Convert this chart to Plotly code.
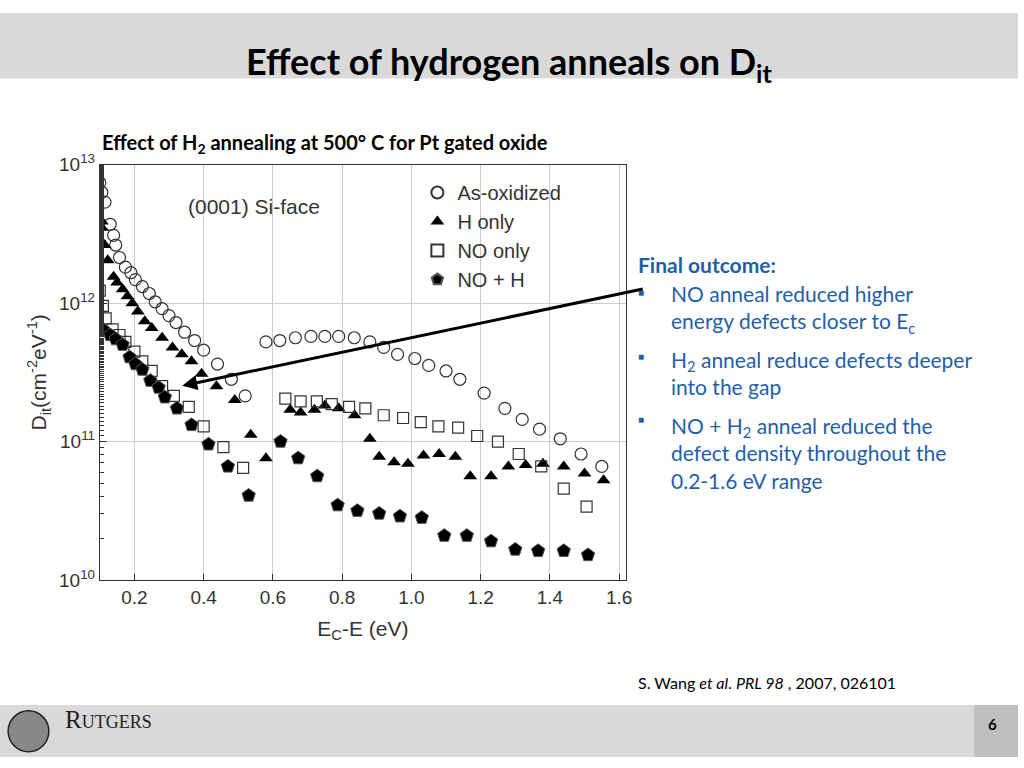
import numpy as np
import plotly.graph_objects as go

# E_c - E (eV) and log10(D_it)
asox_x = [0.10, 0.106, 0.115, 0.13, 0.14, 0.146, 0.157, 0.174, 0.19, 0.203, 0.223, 0.243, 0.26, 0.28, 0.30,
          0.32, 0.345, 0.374, 0.40, 0.44, 0.48, 0.52, 0.58, 0.62, 0.665, 0.71, 0.75, 0.79, 0.835, 0.88, 0.92,
          0.96, 1.01, 1.05, 1.10, 1.14, 1.21, 1.27, 1.32, 1.37, 1.43, 1.49, 1.55]
asox_y = [12.87, 12.80, 12.73, 12.57, 12.49, 12.42, 12.33, 12.26, 12.22, 12.17, 12.12, 12.07, 12.01, 11.96, 11.91,
          11.86, 11.79, 11.73, 11.66, 11.56, 11.45, 11.33, 11.72, 11.73, 11.75, 11.76, 11.76, 11.76, 11.75, 11.72,
          11.68, 11.63, 11.60, 11.55, 11.51, 11.45, 11.35, 11.24, 11.16, 11.09, 11.02, 10.91, 10.82]
h_x = [0.106, 0.106, 0.114, 0.123, 0.14, 0.15, 0.166, 0.18, 0.194, 0.21, 0.23, 0.25, 0.28, 0.31, 0.337, 0.365,
       0.394, 0.437, 0.49, 0.536, 0.58, 0.65, 0.68, 0.72, 0.75, 0.79, 0.836, 0.88, 0.907, 0.95, 0.99, 1.035,
       1.08, 1.127, 1.17, 1.23, 1.28, 1.33, 1.38, 1.44, 1.50, 1.555]
h_y = [12.59, 12.545, 12.42, 12.31, 12.19, 12.15, 12.10, 12.05, 12.00, 11.94, 11.87, 11.82, 11.75, 11.68, 11.63,
       11.58, 11.49, 11.40, 11.30, 11.05, 10.88, 11.23, 11.21, 11.23, 11.26, 11.24, 11.19, 11.02, 10.89, 10.85,
       10.84, 10.90, 10.91, 10.89, 10.75, 10.75, 10.82, 10.83, 10.84, 10.82, 10.77, 10.72]
no_x = [0.10, 0.109, 0.117, 0.137, 0.157, 0.174, 0.20, 0.223, 0.25, 0.28, 0.314, 0.357, 0.40, 0.457, 0.514,
        0.636, 0.68, 0.727, 0.77, 0.82, 0.867, 0.92, 0.976, 1.027, 1.078, 1.135, 1.19, 1.25, 1.31, 1.375, 1.44, 1.506]
no_y = [12.09, 11.98, 11.89, 11.81, 11.77, 11.72, 11.65, 11.58, 11.51, 11.40, 11.33, 11.25, 11.11, 10.96, 10.81,
        11.31, 11.29, 11.29, 11.27, 11.25, 11.24, 11.19, 11.17, 11.14, 11.11, 11.10, 11.04, 11.00, 10.91, 10.82,
        10.66, 10.53]
noh_x = [0.109, 0.13, 0.146, 0.166, 0.186, 0.203, 0.223, 0.246, 0.27, 0.288, 0.323, 0.365, 0.414, 0.47, 0.53,
         0.622, 0.673, 0.728, 0.787, 0.844, 0.907, 0.967, 1.03, 1.095, 1.16, 1.23, 1.30, 1.366, 1.44, 1.51]
noh_y = [11.81, 11.77, 11.74, 11.70, 11.61, 11.56, 11.52, 11.44, 11.39, 11.32, 11.24, 11.12, 10.98, 10.82, 10.61,
         11.00, 10.88, 10.75, 10.54, 10.50, 10.48, 10.46, 10.45, 10.32, 10.32, 10.28, 10.22, 10.21, 10.21, 10.18]

xtick_vals = [0.2, 0.4, 0.6, 0.8, 1.0, 1.2, 1.4, 1.6]
ytick_exps = [10, 11, 12, 13]

ink = "#333333"
blue = "#1f5fa8"
fig = go.Figure()

series = [
    ("As-oxidized", asox_x, asox_y, dict(symbol="circle-open", size=12, color=ink, line=dict(width=1.2, color=ink))),
    ("H only", h_x, h_y, dict(symbol="triangle-up", size=12, color="black")),
    ("NO only", no_x, no_y, dict(symbol="square-open", size=11, color=ink, line=dict(width=1.2, color=ink))),
    ("NO + H", noh_x, noh_y, dict(symbol="pentagon", size=14, color="black",
                                   line=dict(width=1, color="#555"))),
]
for name, xs, ys, mk in series:
    fig.add_trace(go.Scatter(x=xs, y=10 ** np.array(ys), mode="markers", name=name, marker=mk))

fig.add_annotation(x=0.179, y=0.499, ax=462, ay=-97, xref="paper", yref="paper",
                   axref="pixel", ayref="pixel", showarrow=True, arrowhead=2, arrowsize=1,
                   arrowwidth=3, arrowcolor="black", text="")

# slide decorations
shapes = [
    dict(type="rect", xref="paper", yref="paper", x0=0, x1=1, y0=0.912, y1=1, fillcolor="#d9d9d9",
         line_width=0, layer="below"),
    dict(type="rect", xref="paper", yref="paper", x0=0, x1=1, y0=0, y1=0.07, fillcolor="#d9d9d9",
         line_width=0, layer="below"),
    dict(type="rect", xref="paper", yref="paper", x0=0.957, x1=1, y0=0, y1=0.07, fillcolor="#bfbfbf",
         line_width=0, layer="below"),
    dict(type="circle", xref="paper", yref="paper", x0=0.008, x1=0.048, y0=0.007, y1=0.062,
         fillcolor="#888888", line=dict(color="#222", width=1.5)),
]
fig.update_layout(shapes=shapes)

texts = [
    (0.5, 0.968, "<b>Effect of hydrogen anneals on D<sub>it</sub></b>", 36, "black", "center"),
    (0.098, 0.845, "<b>Effect of H<sub>2</sub> annealing at 500° C for Pt gated oxide</b>", 20, "black", "left"),
    (0.183, 0.758, "(0001) Si-face", 21, ink, "left"),
    (0.625, 0.662, "<b>Final outcome:</b>", 21, blue, "left"),
    (0.625, 0.625, "■", 10, blue, "left"),
    (0.657, 0.602, "NO anneal reduced higher<br>energy defects closer to E<sub>c</sub>", 21, blue, "left"),
    (0.625, 0.539, "■", 10, blue, "left"),
    (0.657, 0.516, "H<sub>2</sub> anneal reduce defects deeper<br>into the gap", 21, blue, "left"),
    (0.625, 0.454, "■", 10, blue, "left"),
    (0.657, 0.408, "NO + H<sub>2</sub> anneal reduced the<br>defect density throughout the<br>0.2-1.6 eV range",
     21, blue, "left"),
    (0.625, 0.085, "S. Wang <i>et al</i>. <i>PRL 98</i> , 2007, 026101", 16, "black", "left"),
    (0.975, 0.03, "<b>6</b>", 15, "black", "center"),
    (0.062, 0.03, "R<span style='font-size:18px'>UTGERS</span>", 25, "#222", "left"),
]
for x, y, t, s, c, al in texts:
    fig.add_annotation(x=x, y=y, xref="paper", yref="paper", text=t, showarrow=False, xanchor=al,
                       font=dict(size=s, color=c,
                                 family="Liberation Serif" if "UTGERS" in t else
                                 ("Liberation Sans" if "Si-face" in t else "Lato, Noto Sans")),
                       align="left")

fig.update_layout(
    width=1024, height=768, margin=dict(l=0, r=0, t=0, b=0),
    paper_bgcolor="white", plot_bgcolor="white",
    font=dict(family="Liberation Sans", color=ink, size=19),
    xaxis=dict(domain=[0.098, 0.615], range=[0.1, 1.62], tickvals=xtick_vals,
               ticktext=[f"{v:.1f}" for v in xtick_vals], showgrid=True, gridcolor="#cccccc",
               ticks="inside", ticklen=6, tickcolor=ink, showline=True, linecolor=ink, mirror=True,
               title=dict(text="E<sub>C</sub>-E (eV)", font=dict(size=21, color=ink), standoff=14),
               zeroline=False),
    yaxis=dict(domain=[0.238, 0.796], type="log", range=[10, 13], tickvals=[10.0 ** e for e in ytick_exps],
               ticktext=[f"10<sup>{e}</sup>" for e in ytick_exps], showgrid=True, gridcolor="#cccccc",
               ticks="inside", ticklen=7, tickcolor=ink, showline=True, linecolor=ink, mirror=True,
               minor=dict(ticks="inside", ticklen=4, tickcolor=ink, showgrid=False),
               title=dict(text="D<sub>it</sub>(cm<sup>-2</sup>eV<sup>-1</sup>)", font=dict(size=21, color=ink),
                          standoff=6)),
    legend=dict(x=0.41, y=0.785, xanchor="left", yanchor="top", bgcolor="rgba(0,0,0,0)",
                font=dict(size=20, color=ink), itemsizing="constant", tracegroupgap=0),
)

fig.write_html("out.html", config={"displayModeBar": False},
               post_script="document.body.style.margin='0';document.body.style.overflow='hidden';")
